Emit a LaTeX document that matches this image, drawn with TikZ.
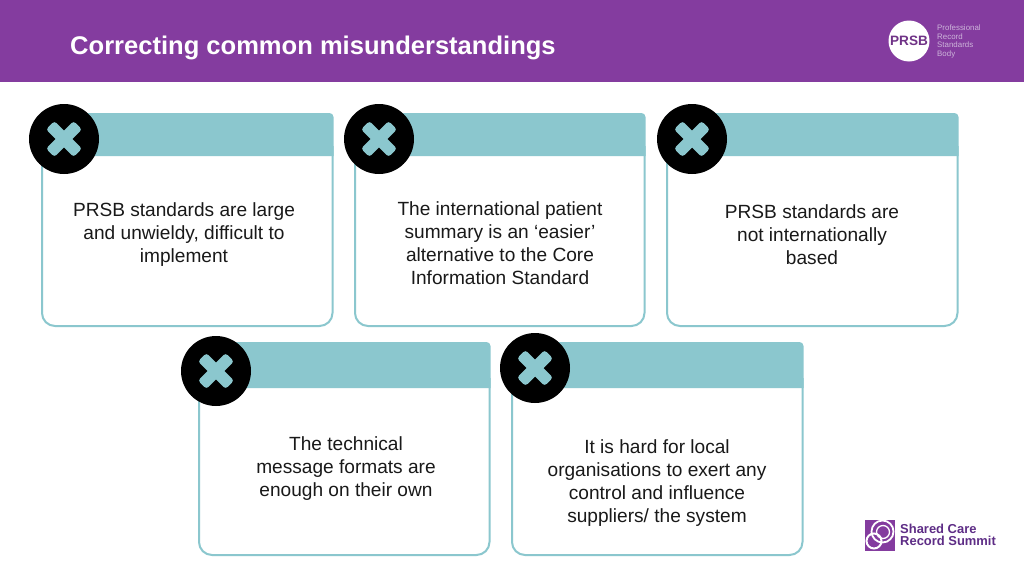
\documentclass[tikz,border=0pt]{standalone}
\usepackage{fontspec}
\setmainfont{Liberation Sans}
\definecolor{brandpurple}{HTML}{843C9F}
\definecolor{teal}{HTML}{8BC7CE}
\definecolor{logotext}{HTML}{5E2D86}
\definecolor{logogrey}{HTML}{CDB4DA}
\tikzset{
  x=1pt,y=-1pt,
  cardtext/.style={align=center,inner sep=0pt,font=\fontsize{19.1}{23}\selectfont,text=black!90},
  badge/.style={circle,fill=black,minimum size=70pt,inner sep=0pt},
  crossarm/.style={fill=teal,rounded corners=3pt}
}
\newcommand{\cardbox}[7]{% x0,y0,x1,y1(bottom),headbottom,cx,cy badge
  \draw[teal,line width=2pt,rounded corners=13pt] (#1,#5-10) -- (#1,#4) -- (#3-0.5,#4) -- (#3-0.5,#5-10);
  \fill[teal] (#1-1,#2+4) [rounded corners=4pt] -- (#1-1,#2) -- (#3+0.5,#2) [sharp corners] -- (#3+0.5,#5) -- (#1-1,#5) -- cycle;
  \node[badge] at (#6,#7) {};
  \fill[crossarm,rotate around={45:(#6,#7)}] (#6-19.5,#7-6) rectangle (#6+19.5,#7+6);
  \fill[crossarm,rotate around={-45:(#6,#7)}] (#6-19.5,#7-6) rectangle (#6+19.5,#7+6);
}
\begin{document}
\begin{tikzpicture}
\useasboundingbox (0,0) rectangle (1024,576);
\fill[white] (0,0) rectangle (1024,576);
\fill[brandpurple] (0,0) rectangle (1024,82);
\node[anchor=west,inner sep=0pt,text=white,font=\fontsize{25.55}{30}\selectfont\bfseries] (title) at (70,47.5) {Correcting common misunderstandings};
% PRSB logo
\node[circle,fill=white,minimum size=41pt,inner sep=0pt] (prsbdisc) at (909,41) {};
\node[text=brandpurple!85!black,inner sep=0pt,font=\fontsize{13.6}{14}\selectfont\bfseries] (prsbword) at (909,41) {PRSB};
\node[anchor=west,align=left,inner sep=0pt,text=logogrey,font=\fontsize{7.9}{8.6}\selectfont] (prsbname) at (937,41.5) {Professional\\Record\\Standards\\Body};
% cards
\cardbox{42}{113}{333}{326}{156}{64}{139}
\cardbox{355}{113}{645}{326}{156}{379}{139}
\cardbox{667}{113}{958}{326}{156}{692}{139}
\cardbox{199}{342}{490}{555}{388}{216}{371}
\cardbox{512}{342}{803}{555}{388}{535}{368}
\node[cardtext] (t1) at (184,234.5) {PRSB standards are large\\and unwieldy, difficult to\\implement};
\node[cardtext] (t2) at (500,243.5) {The international patient\\summary is an ‘easier’\\alternative to the Core\\Information Standard};
\node[cardtext] (t3) at (812,235) {PRSB standards are\\not internationally\\based};
\node[cardtext] (t4) at (346,468.5) {The technical\\message formats are\\enough on their own};
\node[cardtext] (t5) at (657,483.5) {It is hard for local\\organisations to exert any\\control and influence\\suppliers/ the system};
% summit logo
\fill[brandpurple] (865,520) rectangle (895,551);
\draw[white,line width=1.8pt] (882.5,531.5) circle (11);
\draw[white,line width=1.3pt] (883,532) circle (6.5);
\draw[white,line width=2pt] (874,541) circle (7.5);
\node[anchor=west,align=left,inner sep=0pt,text=logotext,font=\fontsize{12.95}{12.4}\selectfont\bfseries] (summit) at (900,535) {Shared Care\\Record Summit};
\end{tikzpicture}
\end{document}
